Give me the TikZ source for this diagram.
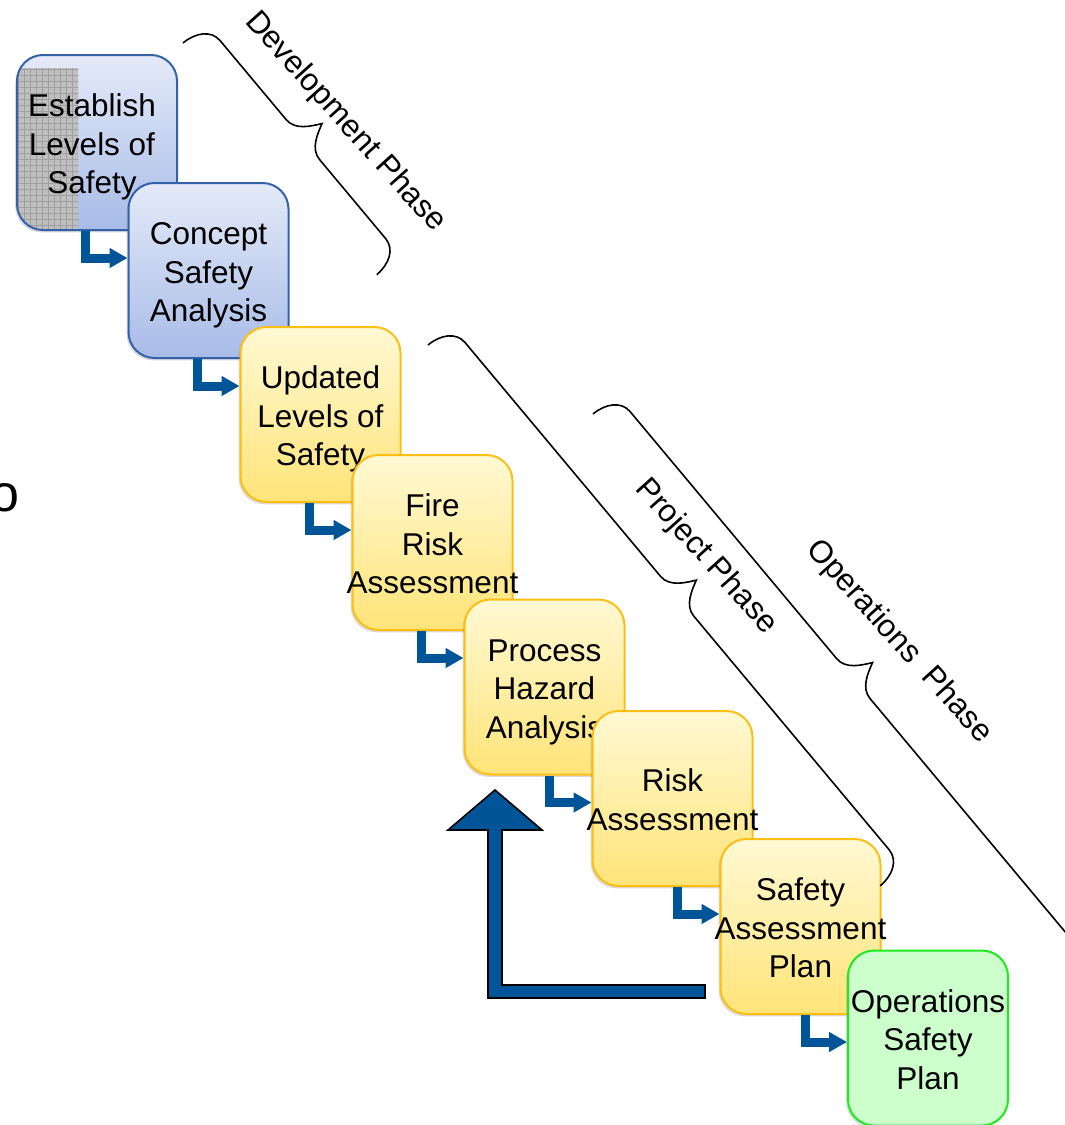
\documentclass[tikz,border=0pt]{standalone}
\usepackage{fontspec}
\setmainfont{Liberation Sans}
\usetikzlibrary{positioning, calc, arrows.meta, shadows, patterns}

\definecolor{devtop}{RGB}{228,234,248}
\definecolor{devbottom}{RGB}{168,188,232}
\definecolor{devline}{RGB}{52,98,168}
\definecolor{projtop}{RGB}{255,249,212}
\definecolor{projbottom}{RGB}{255,228,120}
\definecolor{projline}{RGB}{255,190,20}
\definecolor{opsfill}{RGB}{204,255,204}
\definecolor{opsline}{RGB}{30,235,30}
\definecolor{flowblue}{RGB}{0,85,152}

\newcommand{\steptext}[2][0pt]{\makebox[0pt]{\kern#1\raisebox{0pt}[\dimexpr\height+5pt\relax][\depth]{\begin{tabular}{@{}c@{}}#2\end{tabular}}}}
\newcommand{\phasebrace}[4]{%
  \begin{scope}[shift={(#1,#2)}, rotate=#3, yscale=-1]
    \draw[line width=0.8pt] (0,0) .. controls (0,16) and (8,30) .. (22,30)
      -- ({#4/2-26},30) .. controls ({#4/2-12},30) and ({#4/2-5},45) .. ({#4/2},55)
      .. controls ({#4/2+5},45) and ({#4/2+12},30) .. ({#4/2+26},30)
      -- ({#4-22},30) .. controls ({#4-8},30) and (#4,16) .. (#4,0);
  \end{scope}}

\begin{document}
\begin{tikzpicture}[x=0.5pt,y=-0.5pt,node distance=60pt,on grid,
  every node/.style={font=\fontsize{15.75}{19.25}\selectfont},
  stepbox/.style={rectangle,rounded corners=13pt,minimum width=80pt,minimum height=87.5pt,
    inner sep=0pt,line width=1pt,drop shadow={shadow xshift=-0.9pt,shadow yshift=-1.2pt,opacity=0.3}},
  devbox/.style={stepbox,draw=devline,top color=devtop,bottom color=devbottom},
  projbox/.style={stepbox,draw=projline,top color=projtop,bottom color=projbottom},
  opsbox/.style={stepbox,draw=opsline,fill=opsfill},
  flowarrow/.style={draw=flowblue,line width=4.5pt,-{Triangle[length=9pt,width=9.5pt]}},
  phaselabel/.style={rotate=-48,inner sep=0pt}]
\useasboundingbox (0,0) rectangle (1065,1125);

\node[font=\fontsize{26}{30}\selectfont,anchor=base west,inner sep=0pt] (cutletter) at (-10,511) {o};

\node[devbox,path picture={
    \fill[sharp corners,gray!50] ([shift={(0pt,-6.5pt)}]path picture bounding box.north west)
      rectangle ([shift={(30.5pt,0pt)}]path picture bounding box.south west);
    \fill[sharp corners,pattern=grid,pattern color=gray!75] ([shift={(0pt,-6.5pt)}]path picture bounding box.north west)
      rectangle ([shift={(30.5pt,0pt)}]path picture bounding box.south west);}]
  (b1) at (97,142.5) {\steptext[-5pt]{Establish\\Levels of\\Safety}};
\node[devbox] (b2) [below right=64pt and 55.75pt of b1] {\steptext{Concept\\Safety\\Analysis}};
\node[projbox] (b3) [below right=72pt and 56pt of b2] {\steptext{Updated\\Levels of\\Safety}};
\node[projbox] (b4) [below right=64pt and 56pt of b3] {\steptext{Fire\\Risk\\Assessment}};
\node[projbox] (b5) [below right=72.25pt and 56pt of b4] {\steptext{Process\\Hazard\\Analysis}};
\node[projbox] (b6) [below right=55.75pt and 64pt of b5] {\steptext{Risk\\Assessment}};
\node[projbox] (b7) [below right=64pt and 64pt of b6] {\steptext{Safety\\Assessment\\Plan}};
\node[opsbox] (b8) [below right=55.75pt and 63.75pt of b7] {\steptext{Operations\\Safety\\Plan}};

\foreach \a/\b in {b1/b2,b2/b3,b3/b4,b4/b5,b5/b6,b6/b7,b7/b8}
  \draw[flowarrow] ($(\b.west |- \a.south)+(-42,0)$) |- ($(\b.west |- \a.south)+(0,27)$);

\draw[fill=flowblue,draw=black,line width=0.8pt] (705,985) -- (502,985) -- (502,830) -- (542,830)
  -- (495,790) -- (448,830) -- (488,830) -- (488,998) -- (705,998) -- cycle;

\phasebrace{183}{43}{-50.1}{302}
\phasebrace{428}{345}{-50.1}{705}
\phasebrace{593}{414}{-50.1}{740}

\node[phaselabel] (devlabel) at (345,122) {Development Phase};
\node[phaselabel] (projlabel) at (706,557) {Project Phase};
\node[phaselabel] (opslabel) at (899,642) {Operations\ \ Phase};
\end{tikzpicture}
\end{document}
